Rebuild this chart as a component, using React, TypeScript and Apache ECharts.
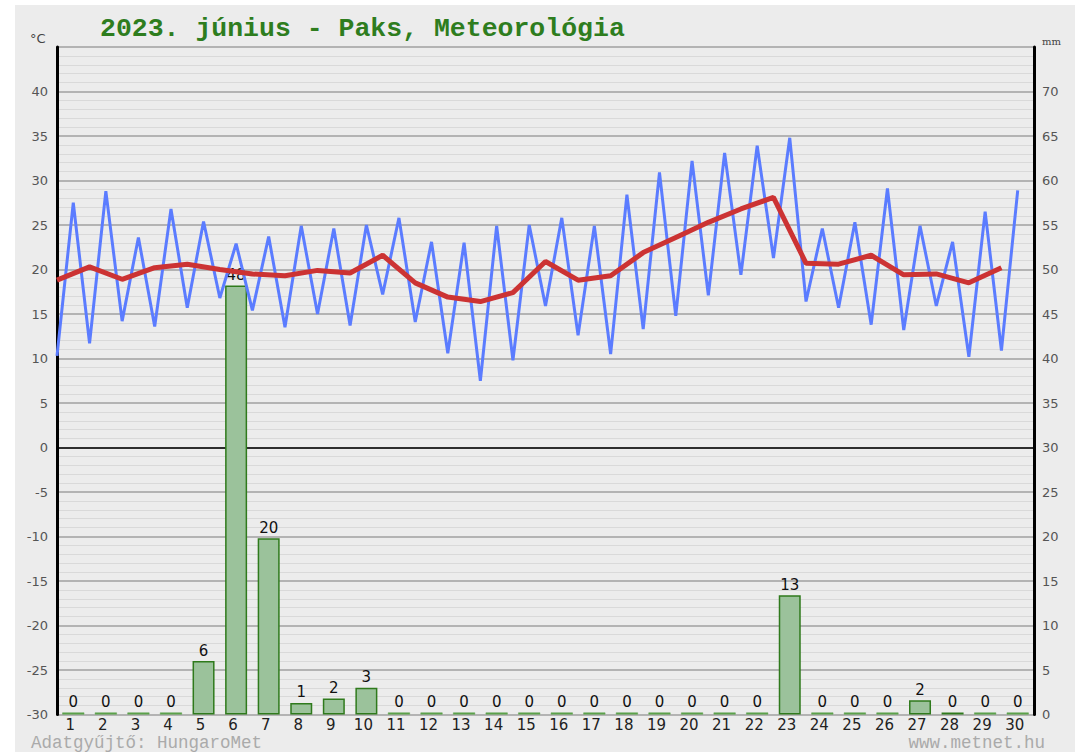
import React, { useEffect, useRef } from "react";
import * as echarts from "echarts";

const days = Array.from({ length: 30 }, (_, i) => String(i + 1));
const tMin = [10.3, 11.7, 14.2, 13.6, 15.7, 16.8, 15.4, 13.5, 15.0, 13.7, 17.2, 14.1, 10.6, 7.5, 9.8, 15.9, 12.6, 10.5, 13.3, 14.8, 17.1, 19.4, 21.3, 16.4, 15.7, 13.8, 13.2, 15.9, 10.2, 10.9];
const tMax = [27.5, 28.8, 23.6, 26.8, 25.4, 22.9, 23.7, 24.9, 24.6, 25.0, 25.8, 23.1, 23.0, 24.9, 25.0, 25.8, 24.9, 28.4, 30.9, 32.2, 33.1, 33.9, 34.8, 24.6, 25.3, 29.1, 24.9, 23.1, 26.5, 28.9];
const tMean = [18.8, 20.3, 18.9, 20.2, 20.6, 20.0, 19.5, 19.3, 19.9, 19.6, 21.6, 18.5, 16.9, 16.4, 17.4, 20.9, 18.8, 19.3, 21.9, 23.6, 25.3, 26.8, 28.1, 20.7, 20.6, 21.6, 19.4, 19.5, 18.5, 20.2];
const precip = [0, 0, 0, 0, 6.0, 48.2, 19.8, 1.3, 1.8, 3.0, 0, 0, 0, 0, 0, 0, 0, 0, 0, 0, 0, 0, 13.4, 0, 0, 0, 1.6, 0.2, 0, 0];
const tempTicks = { min: -30, max: 45, interval: 5 };
const mmTicks = { min: 0, max: 75, interval: 5 };

export default function App() {
  const ref = useRef<HTMLDivElement>(null);
  useEffect(() => {
    if (!ref.current) return;
    const chart = echarts.init(ref.current, null, { renderer: "svg" });
    const blueData: number[][] = [];
    for (let i = 0; i < 30; i++) {
      blueData.push([i, tMin[i]]);
      blueData.push([i + 0.5, tMax[i]]);
    }
    const redData = tMean.map((v, i) => [i, v]);
    const barData = precip.map((v) =>
      v === 0 ? { value: v, itemStyle: { color: "#5da24c", borderColor: "#5da24c", borderWidth: 0.5 } } : { value: v }
    );
    const labelFont = "DejaVu Sans";
    const option: any = {
      animation: false,
      backgroundColor: "transparent",
      grid: { left: 57, right: 41, top: 47, bottom: 37.5, show: false },
      graphic: [
        { type: "text", left: 100, top: 15, style: { text: "2023. június - Paks, Meteorológia", fill: "#2e7d1e", font: "bold 26.5px 'Liberation Mono'" } },
        { type: "text", left: 30, top: 32, style: { text: "°C", fill: "#444", font: "13px 'DejaVu Sans'" } },
        { type: "text", left: 1042, top: 36, style: { text: "mm", fill: "#444", font: "10px 'DejaVu Serif'" } },
        { type: "text", left: 31, top: 734, style: { text: "Adatgyűjtő: HungaroMet", fill: "#aaaaaa", font: "17.5px 'Liberation Mono'" } },
        { type: "text", right: 30, top: 734, style: { text: "www.metnet.hu", fill: "#aaaaaa", font: "17.5px 'Liberation Mono'" } },
      ],
      xAxis: [
        {
          type: "category",
          data: days,
          boundaryGap: true,
          axisLine: { show: false },
          axisTick: { show: false },
          axisLabel: { color: "#222", fontFamily: labelFont, fontSize: 15, margin: 3, padding: [0, 6, 0, 0] },
          splitLine: { show: false },
        },
        { type: "value", min: 0, max: 30, show: false },
      ],
      yAxis: [
        {
          type: "value",
          ...tempTicks,
          position: "left",
          axisLine: { show: true, onZero: false, lineStyle: { color: "#000", width: 3 } },
          axisTick: { show: false },
          axisLabel: { color: "#555", fontFamily: labelFont, fontSize: 13, margin: 9, formatter: (v: number) => (v === 45 ? "" : String(v)) },
          splitLine: { show: true, lineStyle: { color: "#a0a0a0", width: 1.5 } },
          minorTick: { show: false, splitNumber: 5 },
          minorSplitLine: { show: true, lineStyle: { color: "#d9d9d9", width: 1 } },
        },
        {
          type: "value",
          ...mmTicks,
          position: "right",
          axisLine: { show: true, onZero: false, lineStyle: { color: "#000", width: 3 } },
          axisTick: { show: false },
          axisLabel: { color: "#555", fontFamily: labelFont, fontSize: 13, margin: 8, formatter: (v: number) => (v === 75 ? "" : String(v)) },
          splitLine: { show: false },
        },
      ],
      series: [
        {
          type: "line",
          xAxisIndex: 1,
          yAxisIndex: 0,
          data: [],
          z: 1,
          markLine: {
            z: 1,
            silent: true,
            symbol: "none",
            label: { show: false },
            lineStyle: { color: "#000", width: 1.5, type: "solid" },
            data: [{ yAxis: 0 }],
          },
        },
        {
          type: "bar",
          xAxisIndex: 0,
          yAxisIndex: 1,
          data: barData,
          barWidth: 22,
          barMinHeight: 2,
          z: 2,
          itemStyle: { color: "#9bc29b", borderColor: "#2f7a1c", borderWidth: 1.5 },
          label: { show: true, position: "top", distance: 3, color: "#111", fontFamily: labelFont, fontSize: 15, formatter: (p: any) => String(Math.round(p.value)) },
        },
        {
          type: "line",
          xAxisIndex: 1,
          yAxisIndex: 0,
          data: blueData,
          symbol: "none",
          z: 3,
          lineStyle: { color: "#5b7cff", width: 3 },
        },
        {
          type: "line",
          xAxisIndex: 1,
          yAxisIndex: 0,
          data: redData,
          symbol: "none",
          z: 4,
          lineStyle: { color: "#cc3333", width: 5 },
        },
      ],
    };
    chart.setOption(option);
    return () => chart.dispose();
  }, []);
  return (
    <div style={{ position: "fixed", left: 0, top: 0, width: 1075, height: 752, background: "#fff" }}>
      <div style={{ position: "absolute", left: 15, top: 5, right: 0, bottom: 0, background: "#ececec" }} />
      <div ref={ref} style={{ position: "absolute", left: 0, top: 0, width: 1075, height: 752 }} />
    </div>
  );
}
